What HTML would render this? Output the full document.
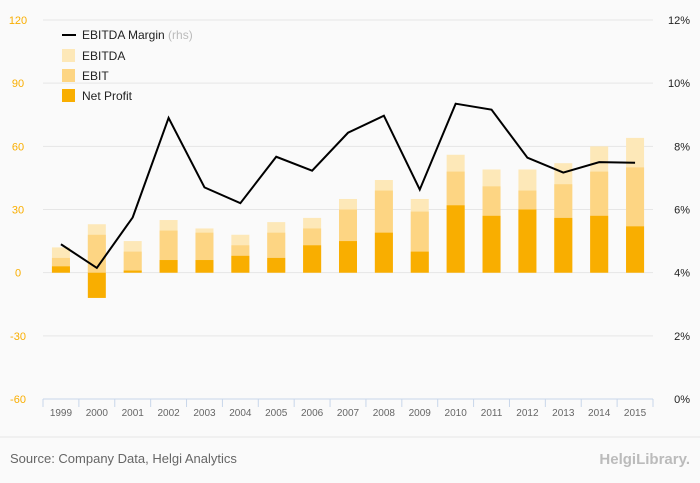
<!DOCTYPE html>
<html><head><meta charset="utf-8"><style>
body{margin:0;background:#fafafa;font-family:"Liberation Sans",sans-serif;}
svg{display:block}
</style></head><body>
<svg width="700" height="483">
<g id="grid"></g><g id="bars"></g><g id="line"></g><g id="axes"></g>
<g font-size="12" fill="#222">
 <line x1="62" y1="35" x2="76" y2="35" stroke="#000" stroke-width="2"/>
 <text x="82" y="39">EBITDA Margin <tspan fill="#bbb">(rhs)</tspan></text>
 <rect x="62" y="49" width="13" height="13" fill="#fde8b8"/>
 <text x="82" y="60">EBITDA</text>
 <rect x="62" y="69" width="13" height="13" fill="#fdd583"/>
 <text x="82" y="80">EBIT</text>
 <rect x="62" y="89" width="13" height="13" fill="#f9ae00"/>
 <text x="82" y="100">Net Profit</text>
</g>
<line x1="0" y1="437" x2="700" y2="437" stroke="#e6e6e6"/>
<text x="10" y="463" font-size="13" fill="#666">Source: Company Data, Helgi Analytics</text>
<text x="690" y="464" font-size="15" fill="#bbb" text-anchor="end" font-weight="bold">HelgiLibrary.</text>
</svg>
<script>
const years=["1999","2000","2001","2002","2003","2004","2005","2006","2007","2008","2009","2010","2011","2012","2013","2014","2015"];
const ebitda=[12,23,15,25,21,18,24,26,35,44,35,56,49,49,52,60,64];
const ebit=[7,18,10,20,19,13,19,21,30,39,29,48,41,39,42,48,50];
const netProfit=[3,-12,1,6,6,8,7,13,15,19,10,32,27,30,26,27,22];
const margin=[4.9,4.15,5.75,8.9,6.7,6.2,7.67,7.23,8.43,8.97,6.63,9.35,9.16,7.64,7.17,7.5,7.48];
const leftTicks=[120,90,60,30,0,-30,-60];
const rightTicks=[12,10,8,6,4,2,0];
const NS="http://www.w3.org/2000/svg";
const X0=43,X1=653,Y0=20,Y1=399;
const step=(X1-X0)/years.length;
const xc=i=>X0+step*(i+0.5);
const yL=v=>Y0+(120-v)/180*(Y1-Y0);
const yR=v=>Y0+(12-v)/12*(Y1-Y0);
function mk(tag,attrs,parent,txt){const e=document.createElementNS(NS,tag);for(const k in attrs)e.setAttribute(k,attrs[k]);if(txt!==undefined)e.textContent=txt;document.getElementById(parent).appendChild(e);return e;}
leftTicks.forEach((t,i)=>{
 if(t!==-60){const g=mk('line',{x1:X0,x2:X1,y1:yL(t),y2:yL(t),stroke:'#e6e6e6'},'grid');
 
 }
 const l=mk('text',{x:18,y:yL(t)+4,'font-size':11,fill:'#f9ae00','text-anchor':'middle'},'axes',t);
 
 
 const r=mk('text',{x:690,y:yR(rightTicks[i])+4,'font-size':11,fill:'#222','text-anchor':'end'},'axes',rightTicks[i]+'%');
 
 
});
const bw=18;
years.forEach((yr,i)=>{
 [[ebitda,'#fde8b8','bar-ebitda'],[ebit,'#fdd583','bar-ebit'],[netProfit,'#f9ae00','bar-net-profit']].forEach(([arr,c,n])=>{
  const v=arr[i];const y=Math.min(yL(v),yL(0));const h=Math.abs(yL(v)-yL(0));
  const b=mk('rect',{x:xc(i)-bw/2,y:y,width:bw,height:h,fill:c},'bars');
  
  
 });
 const t=mk('text',{x:xc(i),y:Y1+17,'font-size':10,fill:'#666','text-anchor':'middle'},'axes',yr);
 
 
 const tk=mk('line',{x1:X0+step*i,x2:X0+step*i,y1:Y1,y2:Y1+8,stroke:'#c8d6ea'},'axes');
 
 
});
const tk=mk('line',{x1:X1,x2:X1,y1:Y1,y2:Y1+8,stroke:'#c8d6ea'},'axes');


const ax=mk('line',{x1:X0,x2:X1,y1:Y1,y2:Y1,stroke:'#c8d6ea'},'axes');


const p=mk('polyline',{points:margin.map((m,i)=>xc(i)+','+yR(m)).join(' '),fill:'none',stroke:'#000','stroke-width':2},'line');


</script>
</body></html>
